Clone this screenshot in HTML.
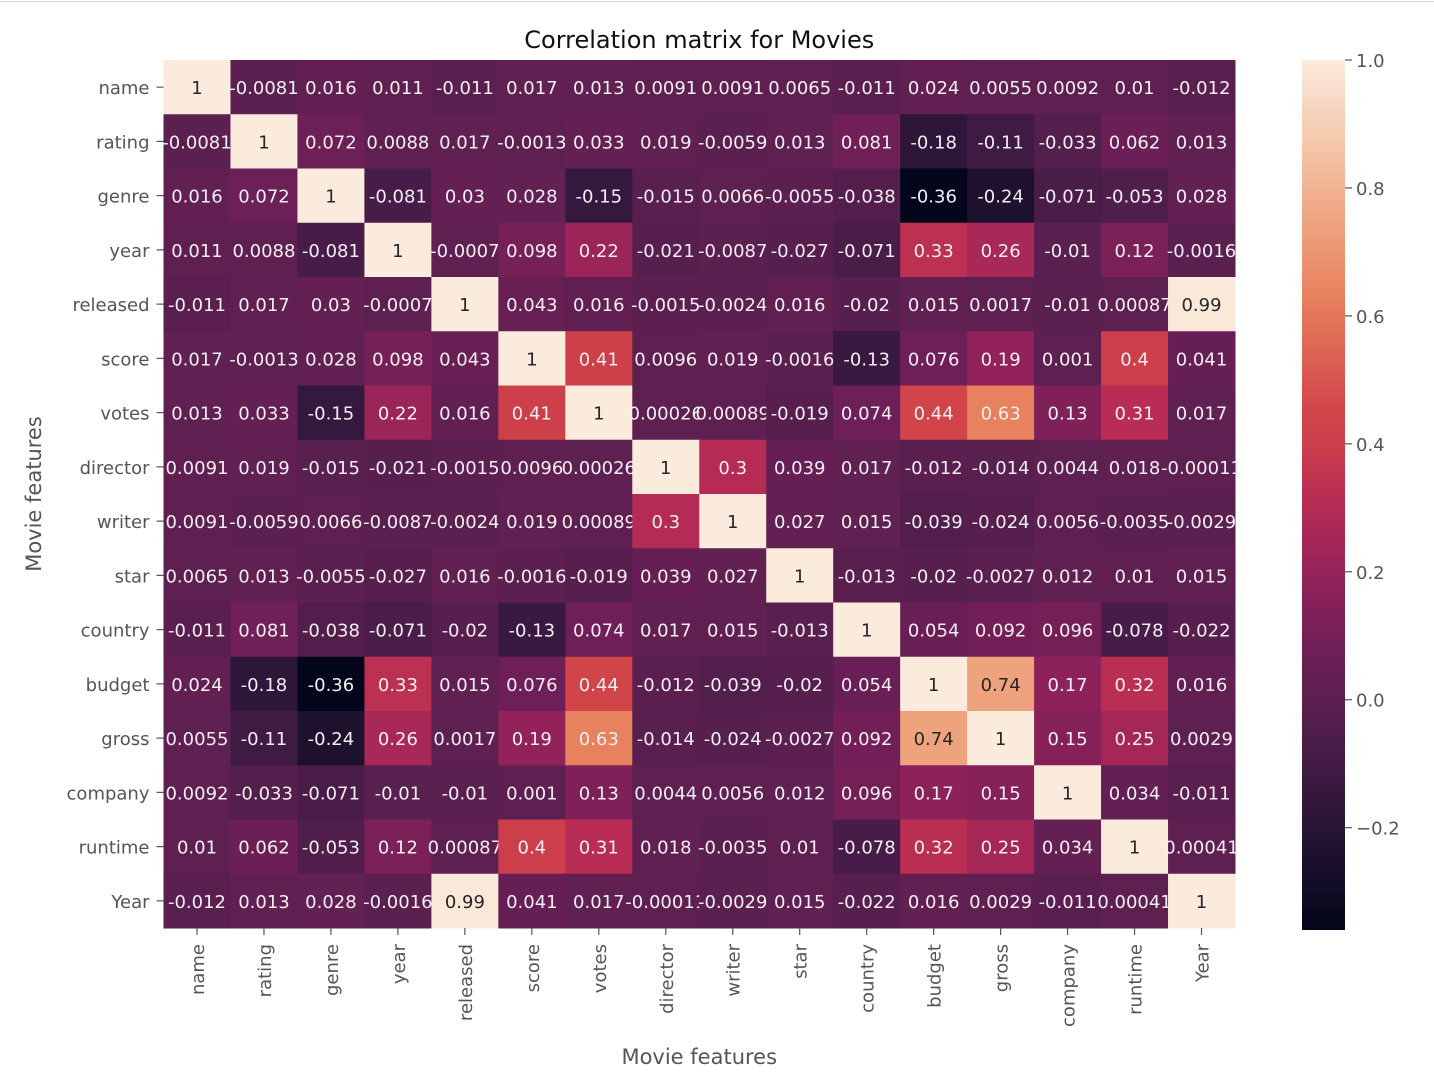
<!DOCTYPE html>
<html><head><meta charset="utf-8">
<style>
html,body{margin:0;padding:0;background:#fff;}
body{width:1434px;height:1092px;overflow:hidden;position:relative;font-family:"DejaVu Sans","Liberation Sans",sans-serif;}
#topline{position:absolute;left:0;top:1px;width:1434px;height:1px;background:#d8d8d8;}
svg{position:absolute;left:0;top:0;}
</style></head>
<body>
<div id="topline"></div>
<svg id="chart" width="1434" height="1092"></svg>
<script>
const labels = ["name","rating","genre","year","released","score","votes","director","writer","star","country","budget","gross","company","runtime","Year"];
const r_name = [1,-0.0081,0.016,0.011,-0.011,0.017,0.013,0.0091,0.0091,0.0065,-0.011,0.024,0.0055,0.0092,0.01,-0.012];
const r_rating = [-0.0081,1,0.072,0.0088,0.017,-0.0013,0.033,0.019,-0.0059,0.013,0.081,-0.18,-0.11,-0.033,0.062,0.013];
const r_genre = [0.016,0.072,1,-0.081,0.03,0.028,-0.15,-0.015,0.0066,-0.0055,-0.038,-0.36,-0.24,-0.071,-0.053,0.028];
const r_year = [0.011,0.0088,-0.081,1,-0.0007,0.098,0.22,-0.021,-0.0087,-0.027,-0.071,0.33,0.26,-0.01,0.12,-0.0016];
const r_released = [-0.011,0.017,0.03,-0.0007,1,0.043,0.016,-0.0015,-0.0024,0.016,-0.02,0.015,0.0017,-0.01,0.00087,0.99];
const r_score = [0.017,-0.0013,0.028,0.098,0.043,1,0.41,0.0096,0.019,-0.0016,-0.13,0.076,0.19,0.001,0.4,0.041];
const r_votes = [0.013,0.033,-0.15,0.22,0.016,0.41,1,0.00026,0.00089,-0.019,0.074,0.44,0.63,0.13,0.31,0.017];
const r_director = [0.0091,0.019,-0.015,-0.021,-0.0015,0.0096,0.00026,1,0.3,0.039,0.017,-0.012,-0.014,0.0044,0.018,-0.00011];
const r_writer = [0.0091,-0.0059,0.0066,-0.0087,-0.0024,0.019,0.00089,0.3,1,0.027,0.015,-0.039,-0.024,0.0056,-0.0035,-0.0029];
const r_star = [0.0065,0.013,-0.0055,-0.027,0.016,-0.0016,-0.019,0.039,0.027,1,-0.013,-0.02,-0.0027,0.012,0.01,0.015];
const r_country = [-0.011,0.081,-0.038,-0.071,-0.02,-0.13,0.074,0.017,0.015,-0.013,1,0.054,0.092,0.096,-0.078,-0.022];
const r_budget = [0.024,-0.18,-0.36,0.33,0.015,0.076,0.44,-0.012,-0.039,-0.02,0.054,1,0.74,0.17,0.32,0.016];
const r_gross = [0.0055,-0.11,-0.24,0.26,0.0017,0.19,0.63,-0.014,-0.024,-0.0027,0.092,0.74,1,0.15,0.25,0.0029];
const r_company = [0.0092,-0.033,-0.071,-0.01,-0.01,0.001,0.13,0.0044,0.0056,0.012,0.096,0.17,0.15,1,0.034,-0.011];
const r_runtime = [0.01,0.062,-0.053,0.12,0.00087,0.4,0.31,0.018,-0.0035,0.01,-0.078,0.32,0.25,0.034,1,0.00041];
const r_Year = [-0.012,0.013,0.028,-0.0016,0.99,0.041,0.017,-0.00011,-0.0029,0.015,-0.022,0.016,0.0029,-0.011,0.00041,1];
const matrix = [r_name,r_rating,r_genre,r_year,r_released,r_score,r_votes,r_director,r_writer,r_star,r_country,r_budget,r_gross,r_company,r_runtime,r_Year];
const cbTicks = [1.0,0.8,0.6,0.4,0.2,0.0,-0.2];
const cbTickLabels = ["1.0","0.8","0.6","0.4","0.2","0.0","\u22120.2"];

const NS="http://www.w3.org/2000/svg";
const svg=document.getElementById('chart');
const L=163.5,R=1235,T=60,B=928;
const n=labels.length, cw=(R-L)/n, ch=(B-T)/n;
let vmin=Infinity,vmax=-Infinity;
matrix.forEach(r=>r.forEach(v=>{vmin=Math.min(vmin,v);vmax=Math.max(vmax,v);}));
const stops=[[0,[3,5,26]],[0.1,[34,19,49]],[0.2,[69,28,71]],[0.265,[93,32,80]],[0.32,[110,31,87]],[0.4,[144,34,89]],[0.49,[183,43,85]],[0.56,[204,63,74]],[0.6,[211,70,74]],[0.73,[232,130,94]],[0.81,[238,162,126]],[0.9,[244,198,168]],[1,[250,235,221]]];
function cmap(t){t=Math.max(0,Math.min(1,t));let i=0;while(i<stops.length-2&&t>stops[i+1][0])i++;
 const a=stops[i],b=stops[i+1];const f=(t-a[0])/(b[0]-a[0]);
 return a[1].map((c,k)=>Math.round(c+(b[1][k]-c)*f));}
function rgb(c){return `rgb(${c[0]},${c[1]},${c[2]})`;}
function xPos(j){return L+j*cw;} function yPos(i){return T+i*ch;}
function el(tag,attrs,txt){const e=document.createElementNS(NS,tag);for(const k in attrs)e.setAttribute(k,attrs[k]);if(txt!==undefined)e.textContent=txt;svg.appendChild(e);return e;}
function fmt(v){return String(Number(v.toPrecision(2)));}

matrix.forEach((row,i)=>row.forEach((v,j)=>{
 const c=cmap((v-vmin)/(vmax-vmin));
 const r=el('rect',{x:xPos(j),y:yPos(i),width:cw+0.5,height:ch+0.5,fill:rgb(c)});
 
 
 const lum=(0.2126*c[0]+0.7152*c[1]+0.0722*c[2])/255;
 const t=el('text',{x:xPos(j)+cw/2,y:yPos(i)+ch/2+7,'text-anchor':'middle','font-size':18,fill:lum>0.63?'#262626':'#f2eef2'},fmt(v));
 
 
}));

labels.forEach((lab,i)=>{
 const y=yPos(i)+ch/2;
 el('line',{x1:L-7,x2:L,y1:y,y2:y,stroke:'#555','stroke-width':1.2});
 const t=el('text',{x:L-14,y:y+7,'text-anchor':'end','font-size':18,fill:'#555'},lab);
 
 
 const x=xPos(i)+cw/2;
 el('line',{x1:x,x2:x,y1:B,y2:B+7,stroke:'#555','stroke-width':1.2});
 const t2=el('text',{x:0,y:0,'text-anchor':'end','font-size':18,fill:'#555',transform:`translate(${x+7},${B+16}) rotate(-90)`},lab);
 
 
});

const title=el('text',{x:(L+R)/2,y:48,'text-anchor':'middle','font-size':24,fill:'#111'},'Correlation matrix for Movies');


const xl=el('text',{x:(L+R)/2,y:1064,'text-anchor':'middle','font-size':21,fill:'#555'},'Movie features');


const yl=el('text',{x:0,y:0,'text-anchor':'middle','font-size':21,fill:'#555',transform:`translate(41,${(T+B)/2}) rotate(-90)`},'Movie features');



// colorbar
const CX=1302,CW=43,CT=60,CB=930;
function cbY(v){return CB-(v-vmin)/(vmax-vmin)*(CB-CT);}
const defs=el('defs',{});
const g=document.createElementNS(NS,'linearGradient');g.setAttribute('id','cbg');g.setAttribute('x1','0');g.setAttribute('y1','1');g.setAttribute('x2','0');g.setAttribute('y2','0');
defs.appendChild(g);
for(let k=0;k<=40;k++){const s=document.createElementNS(NS,'stop');s.setAttribute('offset',k/40);s.setAttribute('stop-color',rgb(cmap(k/40)));g.appendChild(s);}
const cb=el('rect',{x:CX,y:CT,width:CW,height:CB-CT,fill:'url(#cbg)'});


cbTicks.forEach((v,k)=>{
 const y=cbY(v);
 el('line',{x1:CX+CW,x2:CX+CW+7,y1:y,y2:y,stroke:'#555','stroke-width':1.2});
 const t=el('text',{x:CX+CW+11,y:y+7,'font-size':18,fill:'#555'},cbTickLabels[k]);
 
 
});
</script>
</body></html>
